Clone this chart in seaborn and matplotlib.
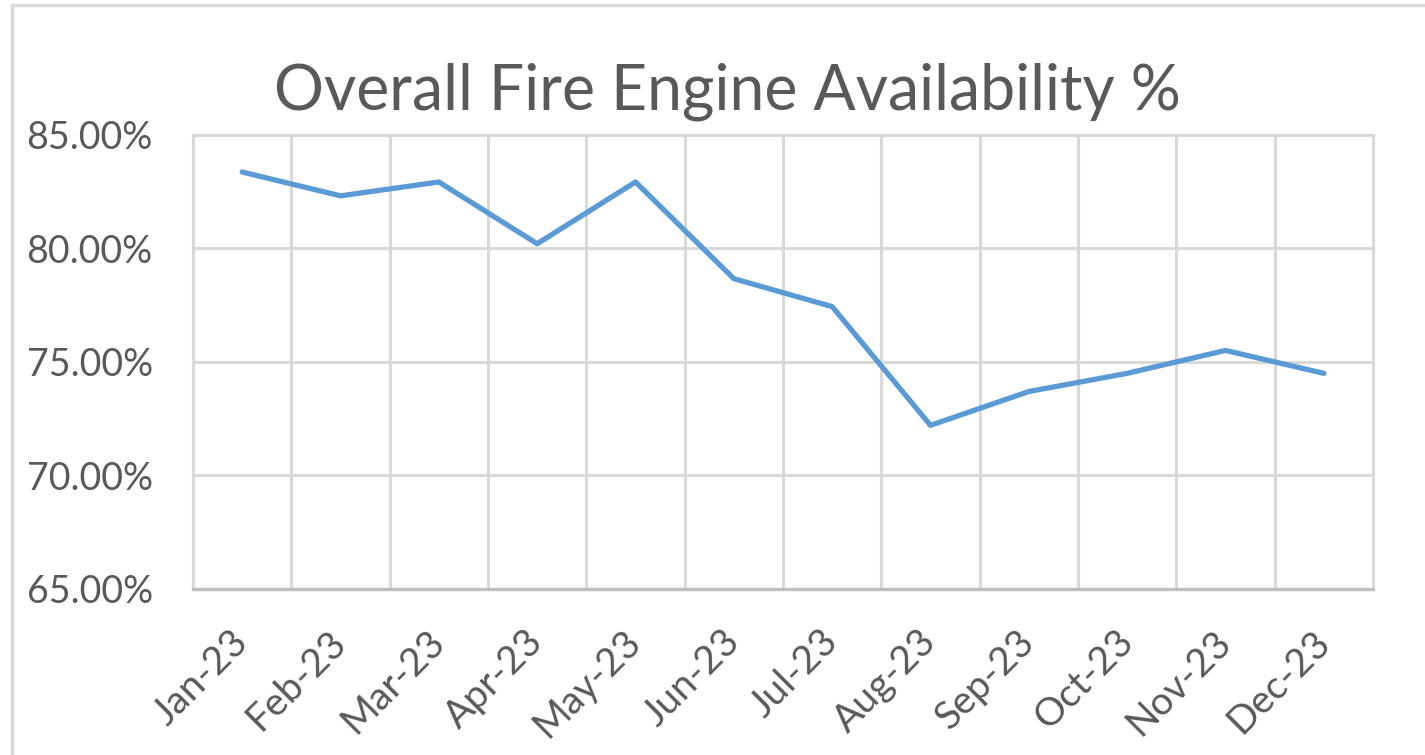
import matplotlib
matplotlib.use("Agg")
import matplotlib.pyplot as plt
import seaborn as sns
import pandas as pd
from matplotlib.ticker import FixedLocator, PercentFormatter
from matplotlib.patches import Rectangle

months = ["Jan-23", "Feb-23", "Mar-23", "Apr-23", "May-23", "Jun-23",
          "Jul-23", "Aug-23", "Sep-23", "Oct-23", "Nov-23", "Dec-23"]
availability = [83.37, 82.32, 82.93, 80.21, 82.93, 78.67,
                77.44, 72.21, 73.70, 74.50, 75.51, 74.50]
y_ticks = [65, 70, 75, 80, 85]
title = "Overall Fire Engine Availability %"

sns.set_theme(style="white")
plt.rcParams['font.family'] = ['Lato', 'DejaVu Sans']

df = pd.DataFrame({"month": months, "value": availability})

fig = plt.figure(figsize=(14.25, 7.55), dpi=100)
ax = fig.add_axes([193/1425, 1-589/755, (1373-193)/1425, (589-135)/755])

sns.lineplot(data=df, x="month", y="value", ax=ax, color="#5B9BD5",
             linewidth=3.8, sort=False, solid_capstyle="round")

ax.set_xlim(-0.5, len(months) - 0.5)
ax.set_ylim(65, 85)
ax.yaxis.set_major_locator(FixedLocator(y_ticks))
ax.yaxis.set_major_formatter(PercentFormatter(decimals=2))
ax.xaxis.set_major_locator(FixedLocator(range(len(months))))
ax.set_xticklabels(months)
ax.xaxis.set_minor_locator(FixedLocator([i + 0.5 for i in range(len(months) - 1)]))

grid_c = "#D9D9D9"
ax.grid(False)
ax.yaxis.grid(True, which="major", color=grid_c, linewidth=2.2)
ax.xaxis.grid(True, which="minor", color=grid_c, linewidth=2.2)
for s in ["left", "right", "top"]:
    ax.spines[s].set_color(grid_c)
    ax.spines[s].set_linewidth(2.2)
ax.spines["bottom"].set_color("#BFBFBF")
ax.spines["bottom"].set_linewidth(2.4)
ax.set_axisbelow(True)

ax.tick_params(axis="both", which="both", length=0)
ax.tick_params(axis="y", labelsize=27, labelcolor="#595959", pad=29)
ax.tick_params(axis="x", labelsize=28, labelcolor="#595959", pad=34)
for lab in ax.get_xticklabels():
    lab.set_rotation(45)
    lab.set_ha("right")
    lab.set_va("center")
    lab.set_rotation_mode("anchor")

ax.set_xlabel("")
ax.set_ylabel("")

fig.text(727/1425, 1-92/755, title, ha="center", va="center",
         fontsize=45, color="#595959")

# outer chart border (cropped on right/bottom)
fig.patches.append(Rectangle((12/1425, -0.05), 1.2, 1-5/755 + 0.05,
                             transform=fig.transFigure, fill=False,
                             edgecolor="#D9D9D9", linewidth=2.5))

fig.savefig("out.png", dpi=100, facecolor="white")
